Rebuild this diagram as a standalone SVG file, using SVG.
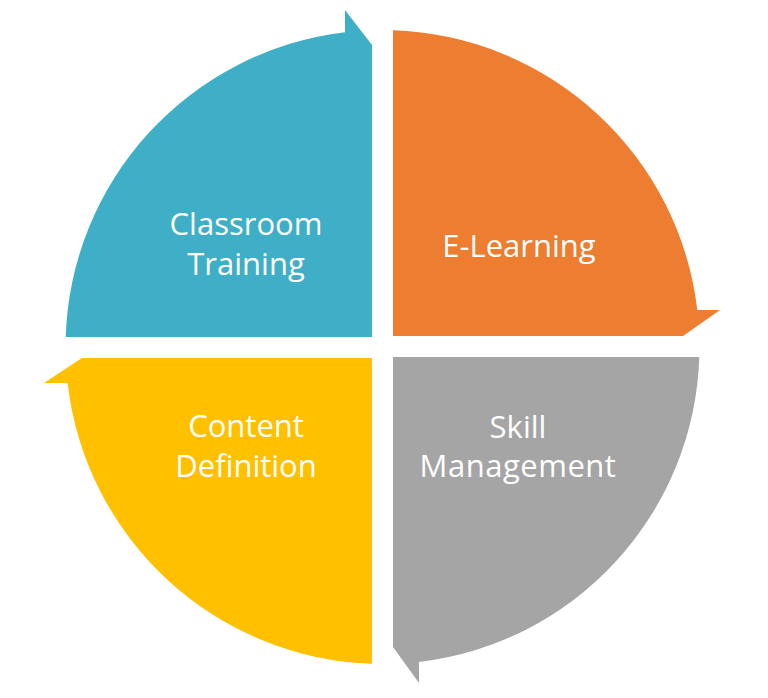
<svg xmlns="http://www.w3.org/2000/svg" width="768" height="698" viewBox="0 0 768 698">
<style>
.lbl{font-family:"Open Sans","Noto Sans","Liberation Sans",sans-serif;font-size:31px;fill:#ffffff;text-anchor:middle}
</style>
<rect width="768" height="698" fill="#ffffff"/>
<g id="classroom-training">
<path d="M 65.7,337 A 317 317 0 0 1 345,32.2 L 345,10 L 372,45 L 372,337 Z" fill="#3FAEC7"/>
<text class="lbl" x="246" y="235">Classroom</text>
<text class="lbl" x="246" y="275">Training</text>
</g>
<g id="e-learning">
<path d="M 393,30.2 A 317 317 0 0 1 697.3,310 L 720,310 L 683,336 L 393,336 Z" fill="#ED7D31"/>
<text class="lbl" x="519" y="257">E-Learning</text>
</g>
<g id="skill-management">
<path d="M 393,357 L 699.3,357 A 317 317 0 0 1 419,661.9 L 419,683 L 393,647 Z" fill="#A5A5A5"/>
<text class="lbl" x="518" y="438">Skill</text>
<text class="lbl" x="518" y="477" style="letter-spacing:0.5px">Management</text>
</g>
<g id="content-definition">
<path d="M 372,358 L 372,663.8 A 317 317 0 0 1 67.6,383 L 44,383 L 82,358 Z" fill="#FFC000"/>
<text class="lbl" x="246" y="437">Content</text>
<text class="lbl" x="246" y="477">Definition</text>
</g>
<g id="connectors"></g>
</svg>
